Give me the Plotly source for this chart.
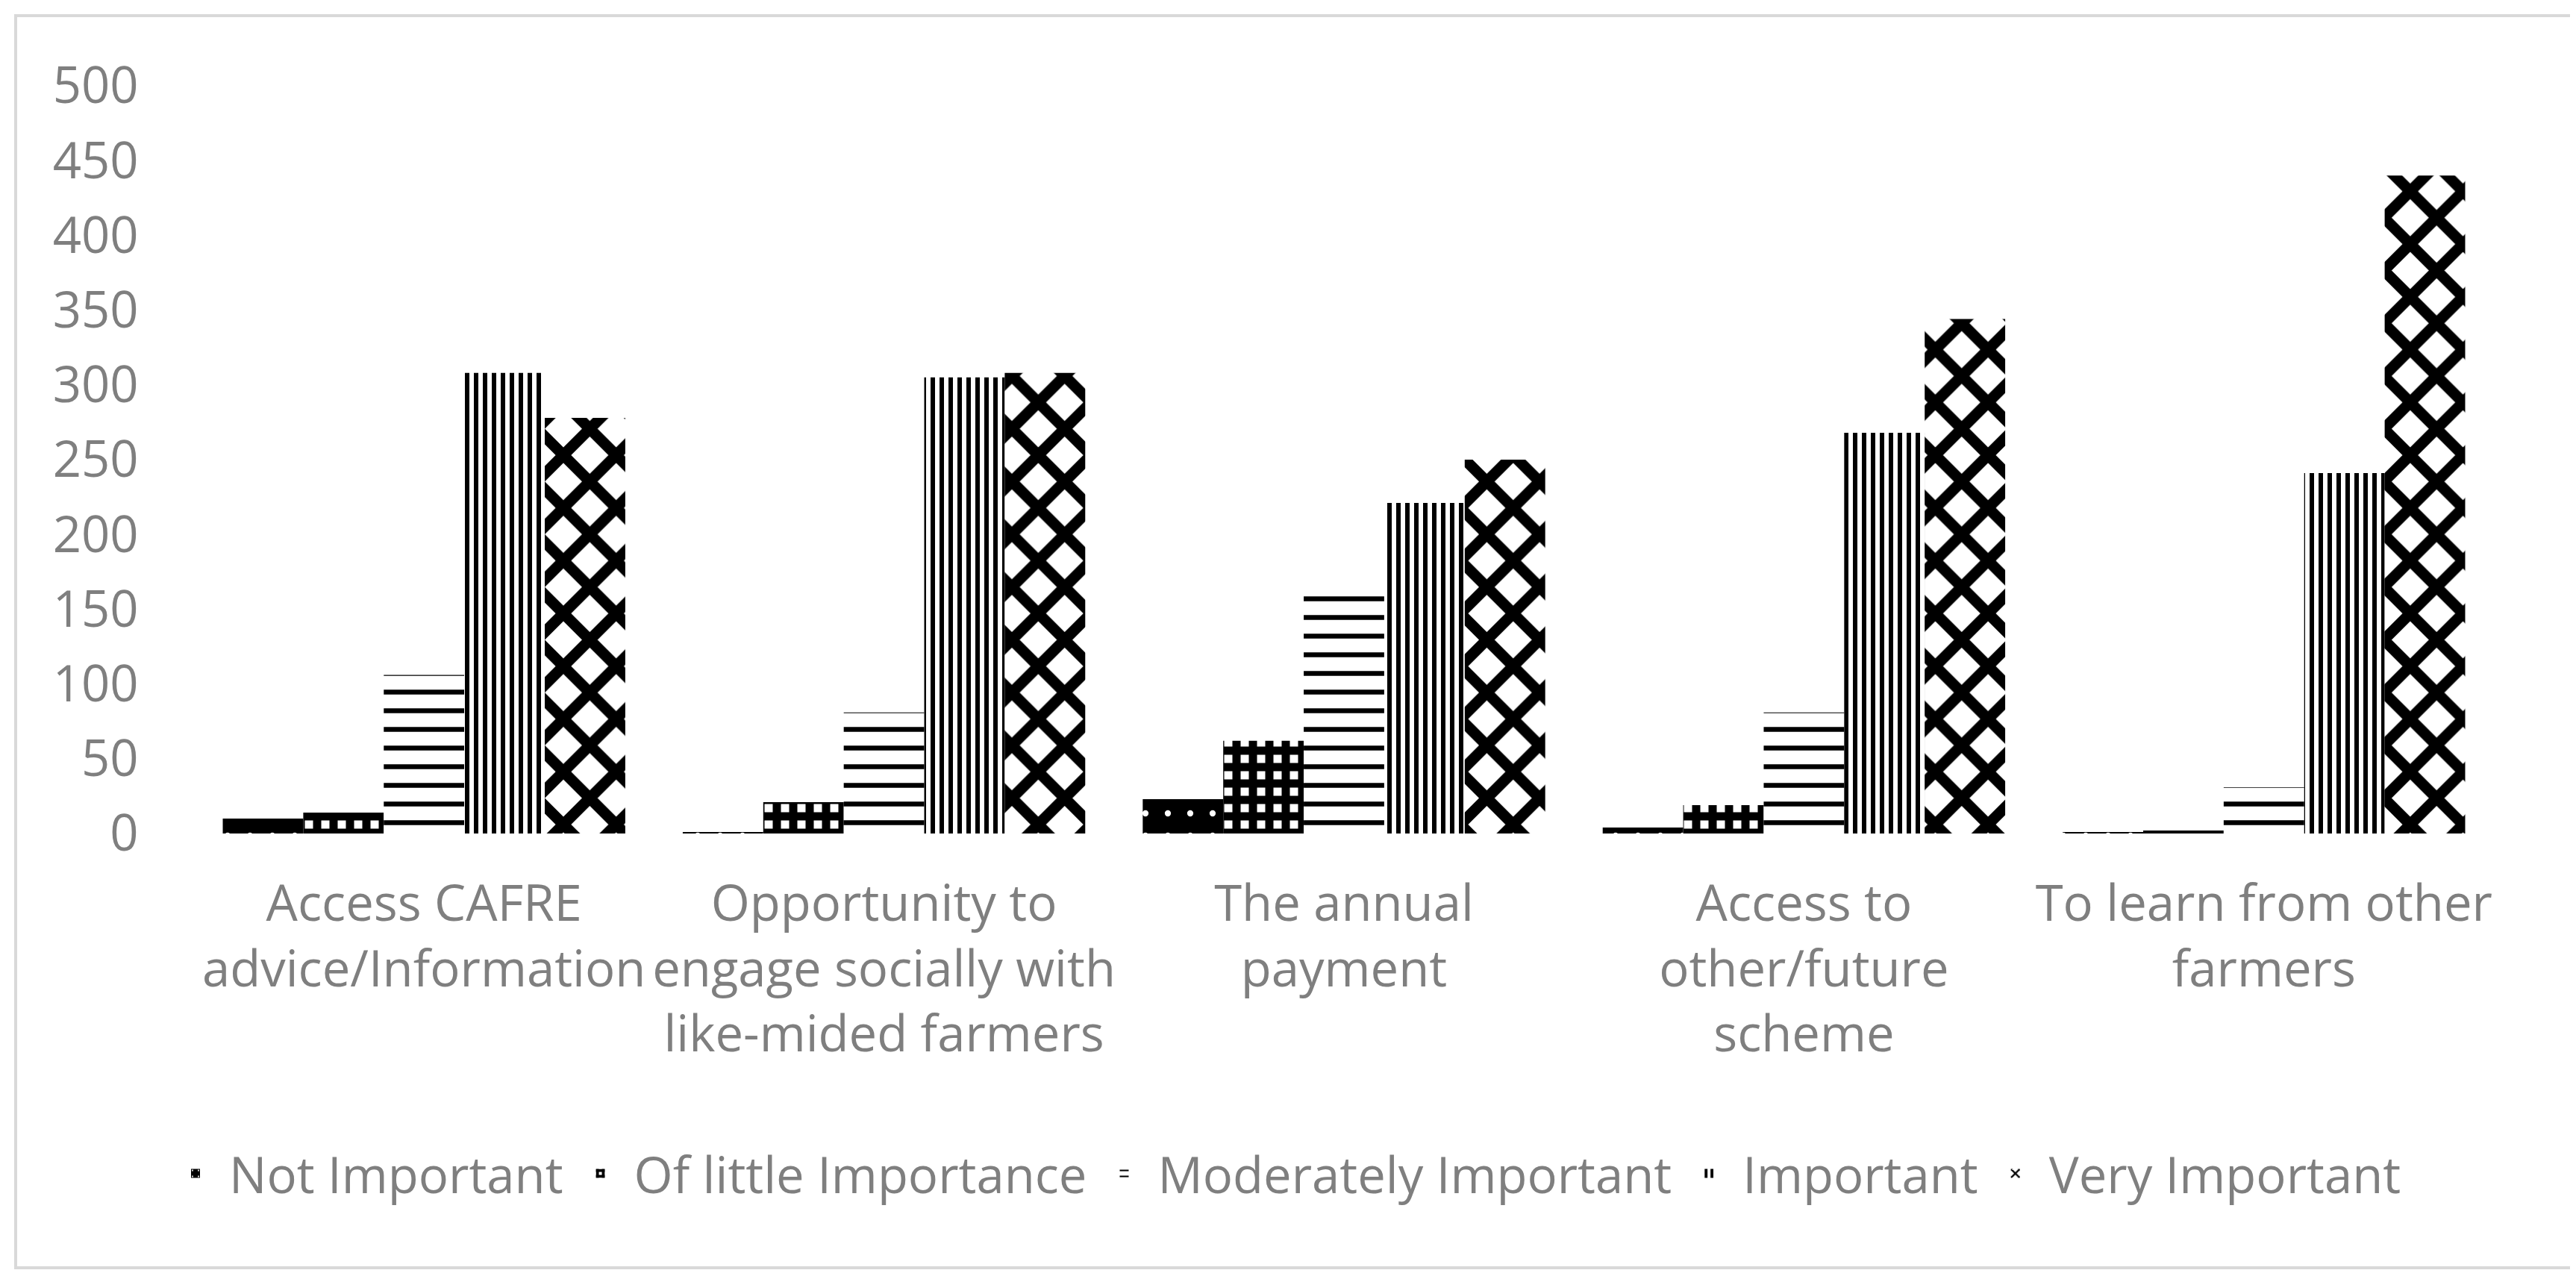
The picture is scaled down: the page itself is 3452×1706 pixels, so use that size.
import plotly.graph_objects as go

# categories (x axis), wrapped as in the original
categories = [
    "Access CAFRE<br>advice/Information",
    "Opportunity to<br>engage socially with<br>like-mided farmers",
    "The annual<br>payment",
    "Access to<br>other/future<br>scheme",
    "To learn from other<br>farmers",
]

# counts
not_important = [10, 1, 23, 4, 1]
of_little_importance = [14, 21, 62, 19, 2]
moderately_important = [106, 81, 165, 81, 31]
important = [308, 305, 221, 268, 241]
very_important = [278, 308, 250, 344, 440]

y_ticks = [0, 50, 100, 150, 200, 250, 300, 350, 400, 450, 500]

series = [
    ("Not Important", not_important,
     dict(shape=".", fgcolor="#ffffff", bgcolor="#000000", size=30, solidity=0.06)),
    ("Of little Importance", of_little_importance,
     dict(shape="+", fgcolor="#000000", bgcolor="#ffffff", size=22, solidity=0.75)),
    ("Moderately Important", moderately_important,
     dict(shape="-", fgcolor="#000000", bgcolor="#ffffff", size=25, solidity=0.26)),
    ("Important", important,
     dict(shape="|", fgcolor="#000000", bgcolor="#ffffff", size=12, solidity=0.5)),
    ("Very Important", very_important,
     dict(shape="x", fgcolor="#000000", bgcolor="#ffffff", size=50, solidity=0.5)),
]

TEXT = "#7f7f7f"
FONT = "Open Sans"
FS = 67

fig = go.Figure()
for name, vals, pat in series:
    pat = dict(pat, fgopacity=1, fillmode="replace")
    fig.add_trace(
        go.Bar(
            x=categories,
            y=vals,
            name=name,
            marker=dict(color="#000000", line=dict(width=0), pattern=pat),
        )
    )

# plot area in pixels
W, H = 3452, 1706
ml, mr, mt, mb = 252, 118, 107, 597
pw, ph = W - ml - mr, H - mt - mb


def px_to_paper_x(px):
    return (px - ml) / pw


def px_to_paper_y(py):
    return (H - mb - py) / ph


fig.update_layout(
    width=W,
    height=H,
    margin=dict(l=ml, r=mr, t=mt, b=mb),
    paper_bgcolor="white",
    plot_bgcolor="white",
    font=dict(family=FONT, size=FS, color=TEXT),
    barmode="group",
    bargap=0.125,
    bargroupgap=0,
    showlegend=True,
    legend=dict(
        orientation="h",
        x=px_to_paper_x(1712),
        xanchor="center",
        y=px_to_paper_y(1565),
        yanchor="middle",
        font=dict(family=FONT, size=FS, color=TEXT),
        itemwidth=80,
        traceorder="normal",
    ),
    xaxis=dict(
        showgrid=False,
        showline=False,
        zeroline=False,
        ticks="outside",
        ticklen=36,
        tickcolor="rgba(0,0,0,0)",
        tickfont=dict(family=FONT, size=FS, color=TEXT),
    ),
    yaxis=dict(
        range=[0, 500],
        tickvals=y_ticks,
        showgrid=False,
        showline=False,
        zeroline=False,
        ticks="outside",
        ticklen=60,
        tickcolor="rgba(0,0,0,0)",
        tickfont=dict(family=FONT, size=FS, color=TEXT),
    ),
    shapes=[
        dict(
            type="rect",
            xref="paper",
            yref="paper",
            x0=px_to_paper_x(13),
            x1=px_to_paper_x(3439),
            y0=px_to_paper_y(1691),
            y1=px_to_paper_y(13),
            line=dict(color="#d9d9d9", width=4),
            fillcolor="rgba(0,0,0,0)",
            layer="below",
        )
    ],
)

fig.write_html("out.html")
